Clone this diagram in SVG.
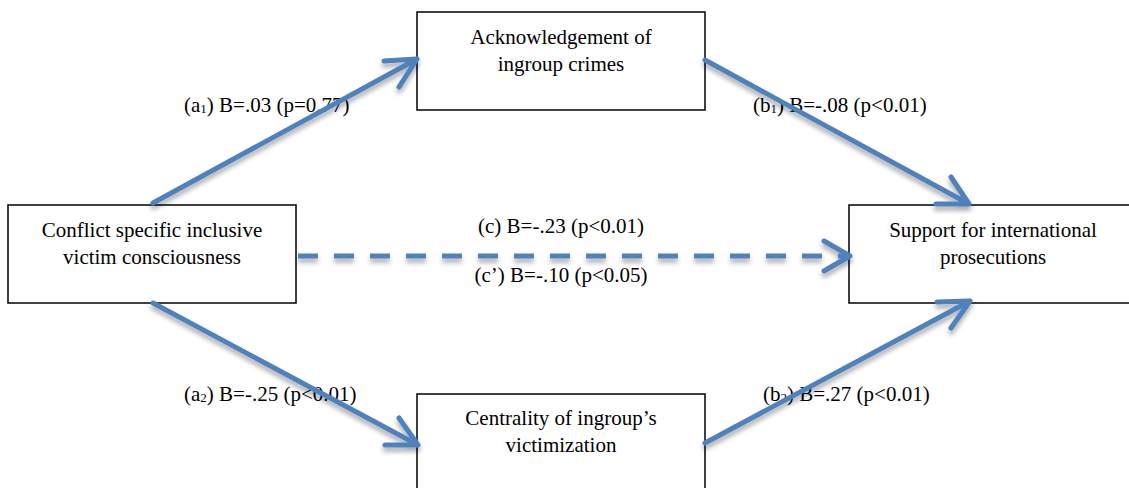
<svg xmlns="http://www.w3.org/2000/svg" width="1129" height="488" viewBox="0 0 1129 488">
<style>
.box{fill:#fff;stroke:#000;stroke-width:1.5}
.t{font-family:"Liberation Serif","Times New Roman",serif;font-size:21px;fill:#000}
.m{text-anchor:middle}
.sub{font-size:13px}
.edge{fill:none;stroke:#4F81BD;stroke-width:5;stroke-linecap:round;stroke-linejoin:round}
.dash{stroke-dasharray:20 16;stroke-linecap:butt}
</style>
<defs>
<filter id="sh" x="-10%" y="-10%" width="120%" height="130%">
<feGaussianBlur in="SourceAlpha" stdDeviation="2.5"/>
<feOffset dx="0" dy="4" result="b"/>
<feComponentTransfer><feFuncA type="linear" slope="0.35"/></feComponentTransfer>
<feMerge><feMergeNode/><feMergeNode in="SourceGraphic"/></feMerge>
</filter>
</defs>
<rect width="1129" height="488" fill="#fff"/>
<g id="node-conflict">
<rect class="box" x="8" y="205" width="288" height="98"/>
<text class="t m" x="152" y="237">Conflict specific inclusive</text>
<text class="t m" x="152" y="264">victim consciousness</text>
</g>
<g id="node-acknowledgement">
<rect class="box" x="417" y="12" width="288" height="98"/>
<text class="t m" x="561" y="44">Acknowledgement of</text>
<text class="t m" x="561" y="71">ingroup crimes</text>
</g>
<g id="node-support">
<rect class="box" x="849" y="205" width="290" height="98"/>
<text class="t m" x="993" y="237">Support for international</text>
<text class="t m" x="993" y="264">prosecutions</text>
</g>
<g id="node-centrality">
<rect class="box" x="417" y="394" width="288" height="110"/>
<text class="t m" x="561" y="425">Centrality of ingroup’s</text>
<text class="t m" x="561" y="452">victimization</text>
</g>
<g id="connectors">
<g id="labels">
<text class="t" x="184" y="112">(a<tspan class="sub" dy="1">1</tspan><tspan dy="-1">) B=.03 (p=0.77)</tspan></text>
<text class="t" x="753" y="112">(b<tspan class="sub" dy="1">1</tspan><tspan dy="-1">) B=-.08 (p&lt;0.01)</tspan></text>
<text class="t m" x="561" y="233">(c) B=-.23 (p&lt;0.01)</text>
<text class="t m" x="561" y="282">(c’) B=-.10 (p&lt;0.05)</text>
<text class="t" x="184" y="401">(a<tspan class="sub" dy="1">2</tspan><tspan dy="-1">) B=-.25 (p&lt;0.01)</tspan></text>
<text class="t" x="763" y="401">(b<tspan class="sub" dy="1">2</tspan><tspan dy="-1">) B=.27 (p&lt;0.01)</tspan></text>
</g>
<g filter="url(#sh)">
<path class="edge" d="M153,203 L417,59 M384,61 L417,59 L399,87"/>
<path class="edge" d="M705,60 L969,204 M951,177 L969,204 L936,204"/>
<path class="edge" d="M153,303 L418,445 M399,418 L418,445 L385,445"/>
<path class="edge" d="M705,443 L970,301 M937,302 L970,301 L951,328"/>
<path class="edge dash" d="M298,256 L846,256"/>
<path class="edge" d="M824,241 L850,256 L824,271"/>
</g>
</g>
</svg>
